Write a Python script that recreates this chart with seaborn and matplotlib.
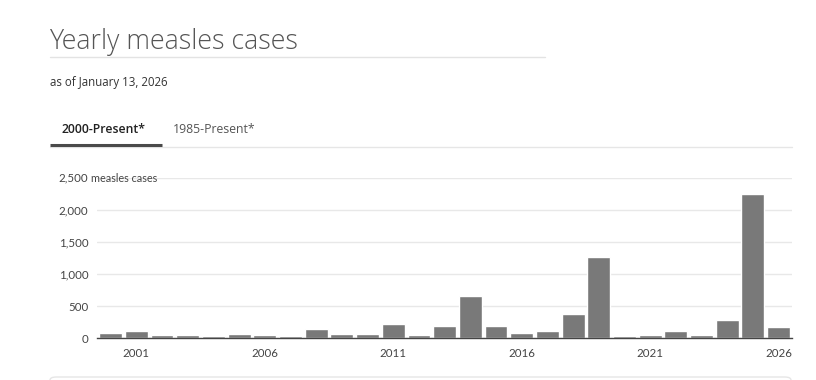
import matplotlib
matplotlib.use("Agg")
import matplotlib.pyplot as plt
from matplotlib.patches import FancyBboxPatch
from matplotlib.lines import Line2D
import matplotlib.transforms as mtransforms
import pandas as pd
import seaborn as sns

# yearly measles cases, 2000 to 2026 (as of Jan 13, 2026)
years = [str(y) for y in range(2000, 2027)]
cases = [86, 116, 44, 56, 37, 66, 55, 43, 140, 71, 63, 220, 55, 187, 667,
         188, 86, 120, 375, 1274, 30, 49, 121, 59, 285, 2255, 171]
year_ticks = ['2001', '2006', '2011', '2016', '2021', '2026']
y_ticks = [0, 500, 1000, 1500, 2000, 2500]
y_ticklabels = ['0', '500', '1,000', '1,500', '2,000', '2,500']

W, H = 816, 380
sns.set_style("white")
plt.rcParams['font.family'] = ['Lato', 'DejaVu Sans']
HEAD_FONT = ['Open Sans', 'DejaVu Sans']

df = pd.DataFrame({'year': years, 'cases': cases})

fig = plt.figure(figsize=(W / 100, H / 100), dpi=100)


def fx(px):
    return px / W


def fy(py):
    return 1 - py / H


ax = fig.add_axes([fx(97.3), fy(338.3), (791.7 - 97.3) / W, (338.3 - 178.3) / H])
sns.barplot(data=df, x='year', y='cases', order=years, color='#797979',
            saturation=1, width=0.89, ax=ax, zorder=3)

ax.set_xlim(-0.52, 26.51)
ax.set_ylim(0, 2500)
ax.set_xticks([years.index(t) for t in year_ticks])
ax.set_xticklabels(year_ticks)
ax.set_yticks(y_ticks)
ax.set_yticklabels(y_ticklabels)
ax.set_xlabel('')
ax.set_ylabel('')
ax.grid(axis='y', color='#e8e8e8', linewidth=1, zorder=0)
for s in ['top', 'right', 'left']:
    ax.spines[s].set_visible(False)
ax.spines['bottom'].set_color('#444444')
ax.spines['bottom'].set_linewidth(1)
ax.spines['bottom'].set_zorder(4)
ax.tick_params(axis='x', length=5, width=1, color='#444444', pad=2,
               labelsize=8.3, labelcolor='#444444')
ax.tick_params(axis='y', length=0, pad=6.5, labelsize=8.3, labelcolor='#444444')
# hide the top tick number, it is drawn together with the unit text
ax.get_yticklabels()[-1].set_visible(False)
trans = mtransforms.blended_transform_factory(ax.transAxes, ax.transData)
ax.annotate('2,500', xy=(0, 2500), xycoords=trans, xytext=(-6.5, 0),
            textcoords='offset points', ha='right', va='center',
            fontsize=8.3, color='#444444', annotation_clip=False)
ax.annotate('measles cases', xy=(0, 2500), xycoords=trans, xytext=(-4.5, 0),
            textcoords='offset points', ha='left', va='center',
            fontsize=7.8, color='#444444', annotation_clip=False)

# header
fig.text(fx(49), fy(49.3), 'Yearly measles cases', fontsize=19.3, fontweight='light',
         color='#555555', va='baseline', ha='left', family=HEAD_FONT)
fig.add_artist(Line2D([fx(50), fx(545)], [fy(56.5), fy(56.5)], color='#e3e3e3', lw=1))
fig.text(fx(50), fy(82.5), 'as of January 13, 2026', fontsize=8.3, color='#333333',
         va='center', ha='left', family=HEAD_FONT)
fig.text(fx(62), fy(129.5), '2000-Present*', fontsize=8.8, fontweight='semibold',
         color='#222222', va='center', ha='left', family=HEAD_FONT)
fig.text(fx(173), fy(129.5), '1985-Present*', fontsize=8.8, color='#555555',
         va='center', ha='left', family=HEAD_FONT)
fig.add_artist(Line2D([fx(50), fx(791.7)], [fy(147.3), fy(147.3)], color='#e6e6e6', lw=1))
fig.add_artist(Line2D([fx(50), fx(161.7)], [fy(145.3), fy(145.3)], color='#4a4a4a', lw=2.2,
                      solid_capstyle='butt'))

# top of the panel below the chart
box = FancyBboxPatch((fx(50), fy(420)), fx(741), (420 - 377) / H,
                     boxstyle='round,pad=0,rounding_size=0.008',
                     transform=fig.transFigure, facecolor='white',
                     edgecolor='#e6e6e6', lw=1, clip_on=False)
fig.add_artist(box)

fig.savefig('out.png', dpi=100)
